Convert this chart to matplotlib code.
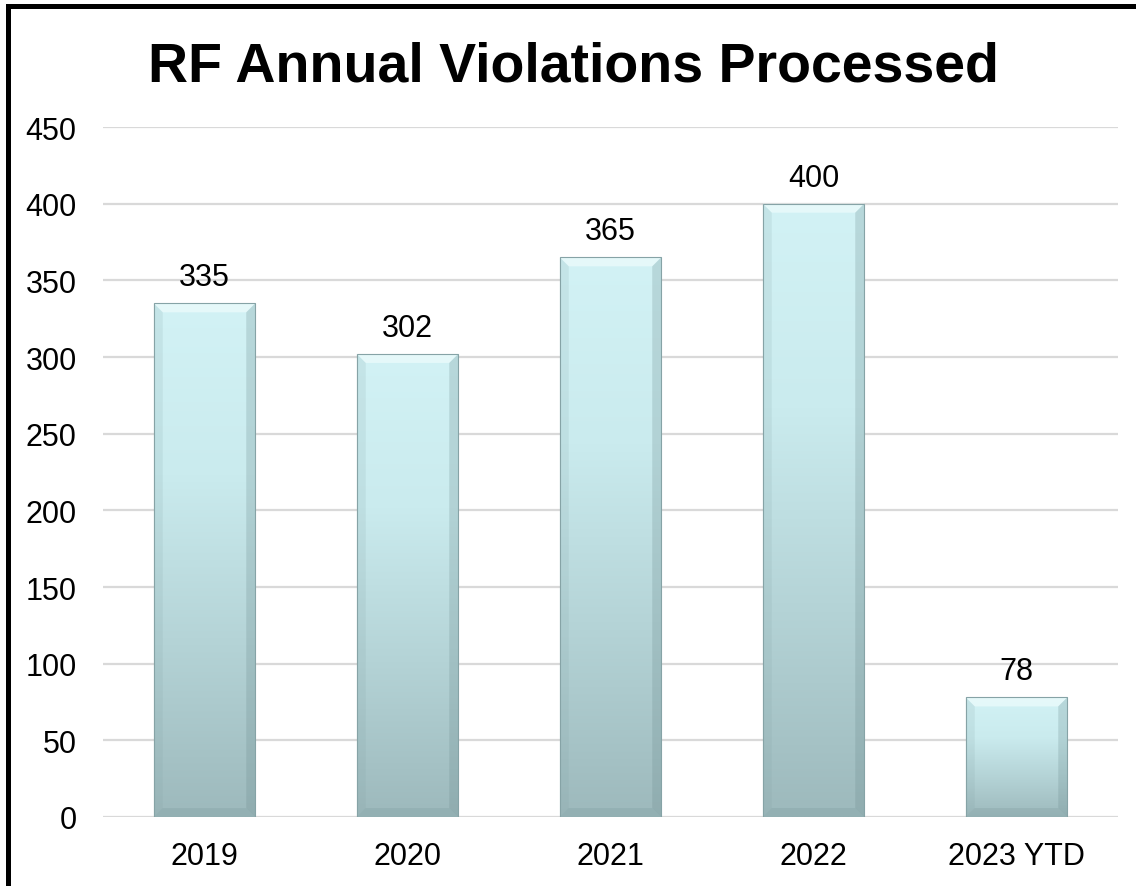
import numpy as np
import matplotlib
matplotlib.use("Agg")
import matplotlib.pyplot as plt
from matplotlib.patches import Rectangle, Polygon
from matplotlib.lines import Line2D
from matplotlib.colors import LinearSegmentedColormap

plt.rcParams['font.family'] = ['Liberation Sans', 'DejaVu Sans']

# Data
categories = ["2019", "2020", "2021", "2022", "2023 YTD"]
violations = [335, 302, 365, 400, 78]
y_ticks = [0, 50, 100, 150, 200, 250, 300, 350, 400, 450]
title = "RF Annual Violations Processed"

W, H = 1136, 887
fig = plt.figure(figsize=(W / 100, H / 100), dpi=100)
fig.patch.set_facecolor("white")

ax_left, ax_right = 103 / W, 1118 / W
ax_bottom, ax_top = 1 - 818 / H, 1 - 128 / H
ax = fig.add_axes([ax_left, ax_bottom, ax_right - ax_left, ax_top - ax_bottom])

n = len(categories)
x = np.arange(n)
bar_w = 0.5
ymax = 450

ax.set_xlim(-0.5, n - 0.5)
ax.set_ylim(0, ymax)

# pixel -> data conversions for the bevel size
px_per_x = (ax_right - ax_left) * W / n
px_per_y = (ax_top - ax_bottom) * H / ymax
bev_px = 9
bx = bev_px / px_per_x
by = bev_px / px_per_y

cmap = LinearSegmentedColormap.from_list(
    "bar_grad", ["#9db9bc", "#b4d3d6", "#caebee", "#d2f2f5"])
grad = np.linspace(0, 1, 256).reshape(-1, 1)

for xi, v in zip(x, violations):
    x0, x1 = xi - bar_w / 2, xi + bar_w / 2
    rect = Rectangle((x0, 0), bar_w, v, facecolor="none", edgecolor="none", zorder=3)
    ax.add_patch(rect)
    im = ax.imshow(grad, cmap=cmap, origin="lower", aspect="auto",
                   extent=[x0, x1, 0, v], zorder=3, interpolation="bilinear")
    im.set_clip_path(rect)
    # bevel facets
    top = Polygon([(x0, v), (x1, v), (x1 - bx, v - by), (x0 + bx, v - by)],
                  closed=True, facecolor="#ecfbfc", edgecolor="none", alpha=0.75, zorder=4)
    left = Polygon([(x0, 0), (x0, v), (x0 + bx, v - by), (x0 + bx, by)],
                   closed=True, facecolor="#7f9ea1", edgecolor="none", alpha=0.15, zorder=4)
    right = Polygon([(x1, 0), (x1, v), (x1 - bx, v - by), (x1 - bx, by)],
                    closed=True, facecolor="#6b8a8d", edgecolor="none", alpha=0.25, zorder=4)
    bottom = Polygon([(x0, 0), (x1, 0), (x1 - bx, by), (x0 + bx, by)],
                     closed=True, facecolor="#5f7f82", edgecolor="none", alpha=0.15, zorder=4)
    for p in (top, left, right, bottom):
        ax.add_patch(p)
    ax.add_patch(Rectangle((x0, 0), bar_w, v, facecolor="none",
                           edgecolor="#86a3a6", linewidth=0.8, zorder=5))
    ax.annotate(str(v), (xi, v), xytext=(0, 8), textcoords="offset points",
                ha="center", va="bottom", fontsize=22, color="black", zorder=6)

ax.set_xticks(x)
ax.set_xticklabels(categories, fontsize=22)
ax.set_yticks(y_ticks)
ax.set_yticklabels([str(t) for t in y_ticks], fontsize=22)
ax.tick_params(axis="both", length=0)
ax.tick_params(axis="y", pad=19)
ax.tick_params(axis="x", pad=17)
ax.yaxis.grid(True, color="#d9d9d9", linewidth=1.6, zorder=0)
ax.set_axisbelow(True)
for s in ax.spines.values():
    s.set_visible(False)

fig.text(0.505, 1 - 82 / H, title, ha="center", va="baseline",
         fontsize=40, fontweight="bold", color="black")

# Frame lines along the top and left edges
top_y = 1 - 6.5 / H
left_x = 8 / W
fig.add_artist(Line2D([left_x, 1.0], [top_y, top_y], transform=fig.transFigure,
                      color="black", linewidth=3.6, solid_capstyle="projecting"))
fig.add_artist(Line2D([left_x, left_x], [0.0, top_y], transform=fig.transFigure,
                      color="black", linewidth=3.6, solid_capstyle="projecting"))

fig.savefig("out.png", dpi=100, facecolor="white")
